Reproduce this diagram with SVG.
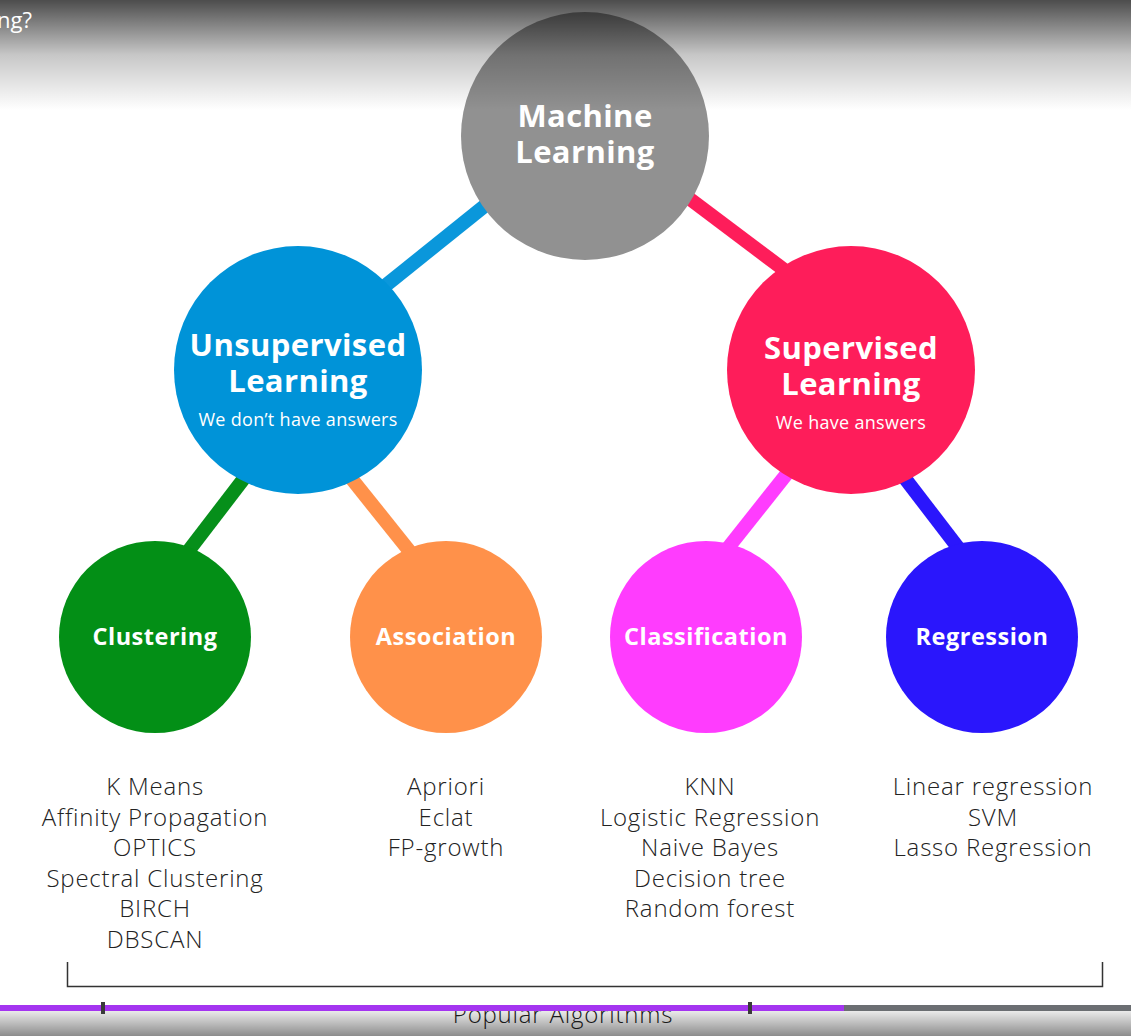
<svg xmlns="http://www.w3.org/2000/svg" width="1131" height="1036" viewBox="0 0 1131 1036">
<defs>
<linearGradient id="topShade" x1="0" y1="0" x2="0" y2="1">
<stop offset="0" stop-color="#000" stop-opacity="0.7"/>
<stop offset="0.5" stop-color="#000" stop-opacity="0.22"/>
<stop offset="1" stop-color="#000" stop-opacity="0"/>
</linearGradient>
<linearGradient id="botShade" x1="0" y1="0" x2="0" y2="1">
<stop offset="0" stop-color="#000" stop-opacity="0.08"/>
<stop offset="1" stop-color="#000" stop-opacity="0.45"/>
</linearGradient>
<style>
.edge{stroke-width:14;stroke-linecap:butt;fill:none}
.title{font-family:"Open Sans","Noto Sans",sans-serif;font-weight:700;fill:#fff;text-anchor:middle}
.big{font-size:31px;letter-spacing:0.4px}
.small{font-size:23.5px;letter-spacing:0.5px}
.sub{font-family:"Open Sans","Noto Sans",sans-serif;font-weight:400;fill:#fff;text-anchor:middle;font-size:18px;letter-spacing:0.3px}
.algo{font-family:"Open Sans","Noto Sans",sans-serif;font-weight:300;fill:#222;text-anchor:middle;font-size:24px;letter-spacing:0.8px}
</style>
</defs>
<rect width="1131" height="1036" fill="#fff"/>
<g id="connectors">
<line class="edge" x1="380" y1="290" x2="497" y2="196" stroke="#0a97db"/>
<line class="edge" x1="678" y1="190" x2="795" y2="278" stroke="#fe1d5a"/>
<line class="edge" x1="252" y1="468" x2="183" y2="558" stroke="#068f1a"/>
<line class="edge" x1="343" y1="468" x2="415" y2="558" stroke="#ff914a"/>
<line class="edge" x1="793" y1="466" x2="720" y2="558" stroke="#ff3cfe"/>
<line class="edge" x1="897" y1="468" x2="966" y2="558" stroke="#2a16fc"/>
</g>
<g id="machine-learning">
<circle cx="585" cy="136" r="124" fill="#919191"/>
<text class="title big"><tspan x="585" y="127">Machine</tspan><tspan x="585" y="163">Learning</tspan></text>
</g>
<g id="unsupervised">
<circle cx="298" cy="370" r="124" fill="#0093d8"/>
<text class="title big"><tspan x="298" y="356">Unsupervised</tspan><tspan x="298" y="392">Learning</tspan></text>
<text class="sub" x="298" y="426">We don’t have answers</text>
</g>
<g id="supervised">
<circle cx="851" cy="370" r="124" fill="#fe1d5a"/>
<text class="title big"><tspan x="851" y="359">Supervised</tspan><tspan x="851" y="395">Learning</tspan></text>
<text class="sub" x="851" y="429">We have answers</text>
</g>
<g id="clustering">
<circle cx="155" cy="637" r="96" fill="#038f16"/>
<text class="title small" x="155" y="645">Clustering</text>
</g>
<g id="association">
<circle cx="446" cy="637" r="96" fill="#ff914a"/>
<text class="title small" x="446" y="645">Association</text>
</g>
<g id="classification">
<circle cx="706" cy="637" r="96" fill="#ff3cfe"/>
<text class="title small" x="706" y="645">Classification</text>
</g>
<g id="regression">
<circle cx="982" cy="637" r="96" fill="#2a16fc"/>
<text class="title small" x="982" y="645">Regression</text>
</g>
<g id="clustering-algos">
<text class="algo"><tspan x="155" y="795">K Means</tspan><tspan x="155" y="826">Affinity Propagation</tspan><tspan x="155" y="856">OPTICS</tspan><tspan x="155" y="887">Spectral Clustering</tspan><tspan x="155" y="917">BIRCH</tspan><tspan x="155" y="948">DBSCAN</tspan></text>
</g>
<g id="association-algos">
<text class="algo"><tspan x="446" y="795">Apriori</tspan><tspan x="446" y="826">Eclat</tspan><tspan x="446" y="856">FP-growth</tspan></text>
</g>
<g id="classification-algos">
<text class="algo"><tspan x="710" y="795">KNN</tspan><tspan x="710" y="826">Logistic Regression</tspan><tspan x="710" y="856">Naive Bayes</tspan><tspan x="710" y="887">Decision tree</tspan><tspan x="710" y="917">Random forest</tspan></text>
</g>
<g id="regression-algos">
<text class="algo"><tspan x="993" y="795">Linear regression</tspan><tspan x="993" y="826">SVM</tspan><tspan x="993" y="856">Lasso Regression</tspan></text>
</g>
<g id="bracket">
<path d="M67.5 962 V986.5 H1102.5 V962" fill="none" stroke="#333" stroke-width="1.5"/>
<text class="algo" x="563" y="1023">Popular Algorithms</text>
</g>
<rect x="0" y="0" width="1131" height="110" fill="url(#topShade)"/>
<text x="-3" y="28" font-family="Open Sans, sans-serif" font-size="22" fill="#fff">ng?</text>
<rect x="0" y="1011" width="1131" height="25" fill="url(#botShade)"/>
<rect x="0" y="1005" width="844" height="6" fill="#a435f0"/>
<rect x="844" y="1005" width="287" height="6" fill="#6b6e72"/>
<rect x="101" y="1002" width="4" height="12" fill="#3a3a3a"/>
<rect x="748" y="1002" width="4" height="12" fill="#3a3a3a"/>
</svg>
